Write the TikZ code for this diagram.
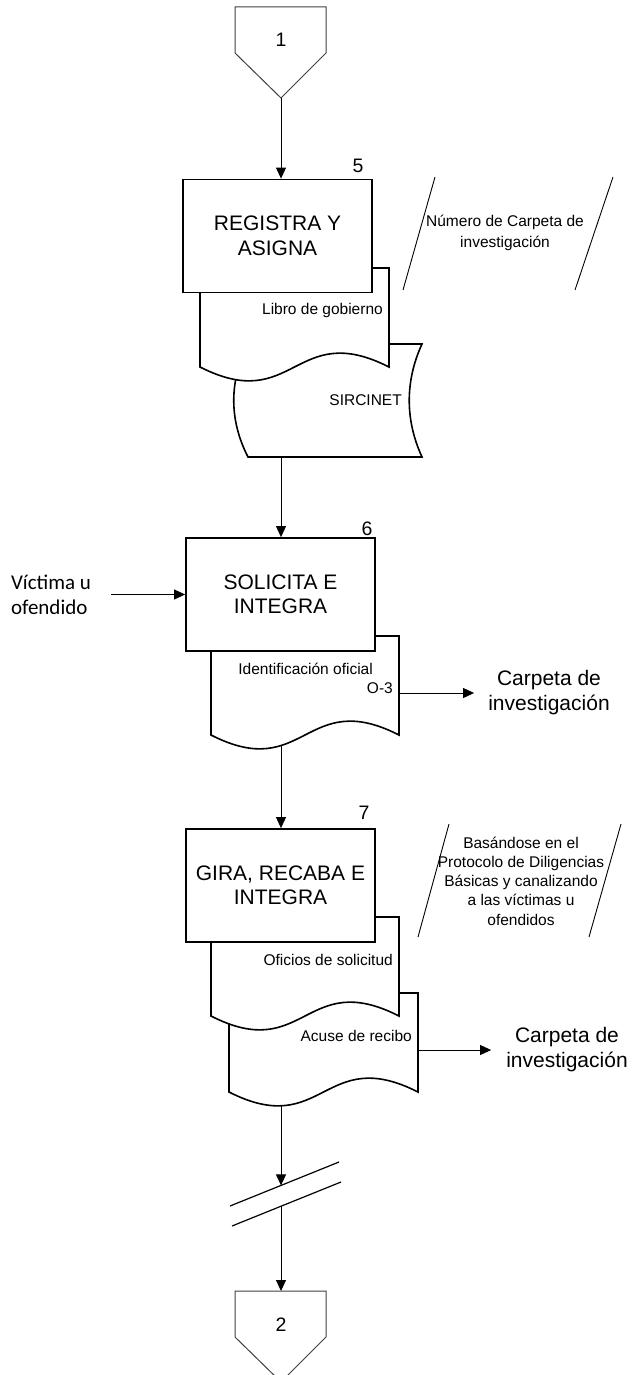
\documentclass[tikz,border=0pt]{standalone}
\usepackage{fontspec}
\setmainfont{Liberation Sans}
\newfontfamily\calibfont{Carlito}
\usetikzlibrary{arrows.meta}
\begin{document}
\begin{tikzpicture}[x=1pt,y=-1pt,
  procbox/.style={draw, line width=1.8pt, fill=white, minimum width=189pt, minimum height=113pt, align=center, font=\fontsize{21}{24.5}\selectfont, inner sep=0pt},
  docshape/.style={draw, line width=1.6pt, fill=white},
  connshape/.style={draw=black!75, line width=1pt, fill=white},
  flow/.style={line width=0.9pt, -{Triangle[length=11pt,width=10pt]}},
  plainline/.style={line width=0.9pt},
  smalltext/.style={font=\fontsize{15.5}{19.3}\selectfont, inner sep=0pt, align=center},
  bigtext/.style={font=\fontsize{21}{25}\selectfont, align=center, inner sep=0pt},
  numtext/.style={font=\fontsize{19.5}{21}\selectfont, inner sep=0pt},
]
\useasboundingbox (0,0) rectangle (632,1375);
\clip (0,0) rectangle (632,1375);

% off-page connector 1
\draw[connshape] (235,7) -- (326,7) -- (326,53) -- (281,98) -- (235,53) -- cycle;
\node[numtext] (c1) at (281,40) {1};
\coordinate (c1p) at (281,98);

% step 5
\draw[docshape] (248,344) -- (422,344) .. controls (405,381) and (405,420) .. (422,457) -- (248,457) .. controls (229,420) and (229,381) .. (248,344) -- cycle;
\node[smalltext, anchor=east] (sirc) at (402,400) {SIRCINET};
\coordinate (sircb) at (281,457);
\draw[docshape] (200,268) -- (389,268) -- (389,367) .. controls (294.5,319) and (294.5,415) .. (200,367) -- cycle;
\node[smalltext, anchor=east] (libro) at (383,310) {Libro de gobierno};
\node[procbox] (b5) at (277.5,236) {REGISTRA Y\\ASIGNA};
\node[numtext] (n5) at (358,166) {5};

\draw[plainline] (435,177) -- (403,290);
\draw[plainline] (613,177) -- (575,290);
\node[smalltext, font=\fontsize{15.5}{21.5}\selectfont] (a5) at (505,233) {Número de Carpeta de\\investigación};

\draw[flow] (c1p) -- (c1p |- b5.north);

% step 6
\draw[docshape] (211,636) -- (399,636) -- (399,735) .. controls (305,687) and (305,783) .. (211,735) -- cycle;
\node[smalltext, anchor=east] (ident) at (373,669) {Identificación oficial};
\node[smalltext, anchor=east] (o3) at (393,688) {O-3};
\coordinate (d6r) at (399,693);
\coordinate (d6b) at (281,746);
\node[procbox] (b6) at (280.5,594.5) {SOLICITA E\\INTEGRA};
\node[numtext] (n6) at (367,529) {6};
\draw[flow] (sircb) -- (sircb |- b6.north);

\node[font=\calibfont\fontsize{21}{25}\selectfont, align=left, inner sep=0pt] (vic) at (51,595) {Víctima u\\ofendido};
\draw[flow] ([xshift=20pt]vic.east |- b6.west) -- (b6.west);

\node[bigtext] (car1) at (549,693) {Carpeta de\\investigación};
\draw[flow, shorten >=14pt] (d6r) -- (car1.west);

% step 7
\draw[docshape] (229,993) -- (418,993) -- (418,1092) .. controls (323.5,1044) and (323.5,1140) .. (229,1092) -- cycle;
\node[smalltext, anchor=east] (acuse) at (412,1036) {Acuse de recibo};
\coordinate (d7r) at (418,1050);
\coordinate (d7b) at (281,1106);
\draw[docshape] (211,917) -- (399,917) -- (399,1016) .. controls (305,968) and (305,1064) .. (211,1016) -- cycle;
\node[smalltext, anchor=east] (ofic) at (393,960) {Oficios de solicitud};
\node[procbox] (b7) at (280.5,885.5) {GIRA, RECABA E\\INTEGRA};
\node[numtext] (n7) at (364,813) {7};
\draw[flow] (d6b) -- (d6b |- b7.north);

\draw[plainline] (449,824) -- (418,937);
\draw[plainline] (621,824) -- (589,937);
\node[smalltext] (a7) at (521,881) {Basándose en el\\Protocolo de Diligencias\\Básicas y canalizando\\a las víctimas u\\ofendidos};

\node[bigtext] (car2) at (567,1050) {Carpeta de\\investigación};
\draw[flow, shorten >=15pt] (d7r) -- (car2.west);

% break
\draw[line width=1.2pt] (230,1206) -- (339,1162);
\draw[line width=1.2pt] (232,1226) -- (341,1182);
\coordinate (brk1) at (281,1185.4);
\coordinate (brk2) at (281,1206.2);
\draw[flow] (d7b) -- (brk1);

% off-page connector 2
\draw[connshape] (235,1291) -- (326,1291) -- (326,1337) -- (281,1382) -- (235,1337) -- cycle;
\node[numtext] (c2) at (281,1325) {2};
\coordinate (c2t) at (281,1291);
\draw[flow] (brk2) -- (c2t);
\end{tikzpicture}
\end{document}
